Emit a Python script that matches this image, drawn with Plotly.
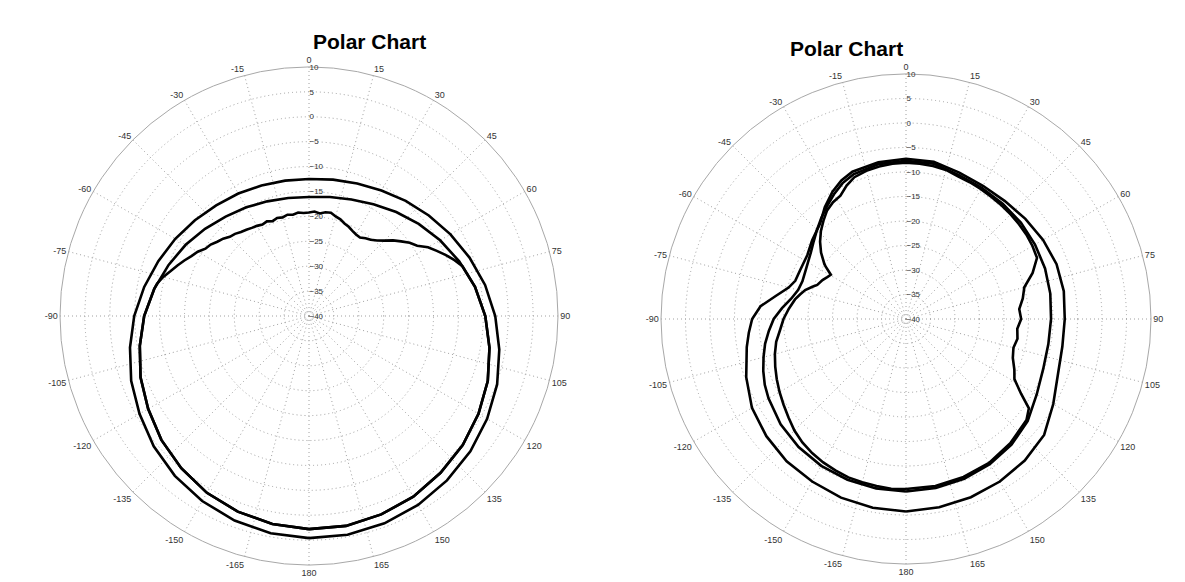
import plotly.graph_objects as go

# ---- left pattern: two smooth traces and one with a ragged upper lobe ----
left_theta = [-180, -170, -160, -150, -140, -130, -120, -110, -100, -90, -80, -70,
              -60, -50, -40, -30, -20, -10, 0, 10, 20, 30, 40, 50, 60, 70, 80, 90,
              100, 110, 120, 130, 140, 150, 160, 170, 180]
left_outer = [4.6, 4.3, 3.7, 2.9, 1.9, 0.7, -0.7, -2.0, -3.5, -4.9, -6.4, -7.8,
              -9.0, -10.1, -11.0, -11.6, -12.1, -12.4, -12.5, -12.2, -11.7, -10.9, -9.8, -8.6, -7.2, -5.7, -4.1, -2.6,
              -1.2, 0.2, 1.3, 2.3, 3.1, 3.8, 4.3, 4.6, 4.6]
left_inner = [2.8, 2.4, 1.8, 1.0, -0.1, -1.3, -2.7, -4.0, -5.5, -6.9, -8.45, -10.0,
              -11.4, -12.75, -13.95, -14.8, -15.5, -15.95, -16.1, -15.75, -15.1, -14.1, -12.75, -11.25, -9.6, -7.9, -6.15, -4.6,
              -3.2, -1.8, -0.7, 0.3, 1.1, 1.9, 2.4, 2.8, 2.8]
# ragged section of the third trace (elsewhere it runs along left_inner)
rough_theta = [-78, -75, -72, -69, -66, -63, -60, -57, -54, -51, -48, -45, -42, -39, -36,
               -33, -30, -27, -24, -21, -18, -15, -12, -9, -6, -3, 0, 3, 6, 9, 12, 15,
               18, 21, 24, 27, 30, 33, 36, 39, 42, 45, 48, 51, 54, 57, 60, 63, 66, 69, 72]
rough_r = [-8.8, -9.7, -10.8, -11.7, -12.6, -13.5, -14.2, -15.2, -15.6, -16.3, -16.8, -17.5, -17.8, -18.3, -18.6,
           -18.9, -19.1, -19.4, -19.2, -19.6, -19.3, -19.5, -19.2, -19.4, -19.1, -19.3, -19.2, -19.0, -19.3, -18.9, -18.8, -19.3,
           -19.6, -20.1, -20.4, -20.8, -21.1, -21.2, -20.7, -20.3, -19.6, -18.6, -17.3, -16.2, -15.0, -14.1, -12.4, -11.2, -9.9, -8.7, -7.6]

# ---- right pattern: heart-shaped traces ----
ra_theta = [-180, -170, -160, -150, -140, -130, -120, -110, -100, -95, -90, -85, -80, -75, -71,
            -65, -57, -50, -42, -36, -30, -25, -20, -10, 0, 10, 20, 30, 40, 50, 60, 70, 80,
            90, 100, 110, 120, 130, 140, 150, 160, 170, 180]
ra_r = [-0.7, -0.9, -1.2, -1.7, -2.1, -2.8, -3.7, -5.3, -7.0, -7.8, -8.6, -10.2, -13.0, -15.2, -16.1,
        -16.2, -16.0, -15.0, -13.8, -11.8, -10.0, -8.8, -8.0, -7.5, -7.3, -7.4, -8.2, -8.6, -8.6, -8.2, -7.7, -7.3, -7.3,
        -7.6, -7.6, -7.0, -5.3, -3.2, -2.3, -1.7, -1.3, -1.0, -0.7]

rb_theta = [-180, -170, -160, -150, -140, -130, -120, -115, -110, -105, -100, -95, -90, -85, -80,
            -75, -70, -65, -60, -55, -50, -45, -40, -35, -30, -25, -20, -10, 0, 10, 20, 30, 40,
            50, 60, 70, 80, 90, 100, 110, 120, 130, 140, 150, 160, 170, 180]
rb_r = [-4.8, -4.9, -5.1, -5.4, -5.9, -6.6, -7.6, -8.2, -9.0, -9.9, -10.8, -11.9, -13.0, -14.6, -16.2,
        -17.2, -17.5, -17.3, -16.9, -16.3, -15.4, -14.3, -13.1, -11.9, -10.6, -9.4, -8.6, -7.9, -7.7, -7.8, -8.7, -9.1, -9.3,
        -9.4, -9.6, -9.8, -10.1, -10.4, -10.5, -10.2, -9.2, -7.6, -6.5, -5.8, -5.3, -5.0, -4.8]

rc_theta = [-180, -175, -170, -165, -160, -155, -150, -145, -140, -135, -130, -125, -120, -115, -110,
            -105, -100, -95, -90, -85, -80, -77, -74, -71, -69, -65, -62, -59.5, -57, -56, -52, -48,
            -44, -40, -36, -32, -28, -24, -20, -15, -10, -5, 0, 5, 10, 15, 20, 25, 30, 35, 40, 45,
            50, 55, 60, 65, 70, 75, 80, 85, 90, 95, 100, 105, 110, 115, 119, 123, 126, 130, 140,
            150, 160, 170, 180]
rc_r = [-5.3, -5.2, -5.4, -5.5, -5.6, -5.9, -6.2, -6.6, -7.1, -7.8, -8.7, -9.5, -10.2, -10.9, -11.6,
        -12.3, -13.1, -14.2, -15.0, -16.0, -17.0, -17.8, -18.6, -19.8, -20.6, -21.2, -21.8, -22.2, -20.5, -19.9, -18.0, -16.4,
        -15.0, -13.8, -12.6, -11.9, -11.5, -10.2, -9.2, -8.7, -8.4, -8.2, -8.1, -8.2, -8.3, -8.5, -9.0, -9.2, -9.4, -9.6, -9.7, -9.8,
        -9.9, -10.0, -10.2, -10.5, -12.5, -15.0, -15.8, -16.8, -16.5, -17.2, -16.9, -17.3, -16.8, -15.6, -14.7, -12.0, -9.0, -7.9, -6.9,
        -6.1, -5.7, -5.4, -5.3]

# axis labelling: ticks every 15 degrees, labelled -165 .. 180
angle_ticks = list(range(0, 360, 15))
angle_text = [str(a if a <= 180 else a - 360) for a in angle_ticks]
r_range = [-40, 10]
r_step = 5

# third left trace: inner trace outside the ragged section, ragged points inside it
lo, hi = rough_theta[0], rough_theta[-1]
pairs = [(t, r) for t, r in zip(left_theta, left_inner) if t < lo or t > hi]
pairs += list(zip(rough_theta, rough_r))
pairs.sort()
left_rough_theta = [p[0] for p in pairs]
left_rough_r = [p[1] for p in pairs]

line_style = dict(color="black", width=2.6)
fig = go.Figure()
for th, rr in [(left_theta, left_outer), (left_theta, left_inner),
               (left_rough_theta, left_rough_r)]:
    fig.add_trace(go.Scatterpolar(theta=th, r=rr, mode="lines", line=line_style,
                                  subplot="polar", showlegend=False))
for th, rr in [(ra_theta, ra_r), (rb_theta, rb_r), (rc_theta, rc_r)]:
    fig.add_trace(go.Scatterpolar(theta=th, r=rr, mode="lines", line=line_style,
                                  subplot="polar2", showlegend=False))

W, H = 1185, 582


def polar_layout(cx, cy, rad):
    return dict(
        domain=dict(x=[(cx - rad) / W, (cx + rad) / W],
                    y=[1 - (cy + rad) / H, 1 - (cy - rad) / H]),
        bgcolor="white",
        angularaxis=dict(direction="clockwise", rotation=90, thetaunit="degrees",
                         tickmode="array", tickvals=angle_ticks, ticktext=angle_text,
                         showline=True, linecolor="#a8a8a8", linewidth=1,
                         gridcolor="#a0a0a0", griddash="1px,3px", gridwidth=1, ticks="",
                         tickfont=dict(family="Liberation Sans", size=9, color="#333")),
        radialaxis=dict(range=r_range, dtick=r_step, angle=90, tickangle=90,
                        showline=False, gridcolor="#a0a0a0", griddash="1px,3px",
                        gridwidth=1, ticks="",
                        tickfont=dict(family="Liberation Sans", size=8, color="#333")),
    )


fig.update_layout(
    width=W, height=H,
    margin=dict(l=0, r=0, t=0, b=0),
    paper_bgcolor="white",
    polar=polar_layout(309, 316, 249),
    polar2=polar_layout(906, 319, 245),
    annotations=[
        dict(text="<b>Polar Chart</b>", x=311 / W, y=1 - 28 / H, xref="paper", yref="paper",
             showarrow=False, font=dict(family="Liberation Sans", size=21, color="black")),
        dict(text="<b>Polar Chart</b>", x=905 / W, y=1 - 35 / H, xref="paper", yref="paper",
             showarrow=False, font=dict(family="Liberation Sans", size=21, color="black")),
    ],
)

fig.write_html("out.html")
